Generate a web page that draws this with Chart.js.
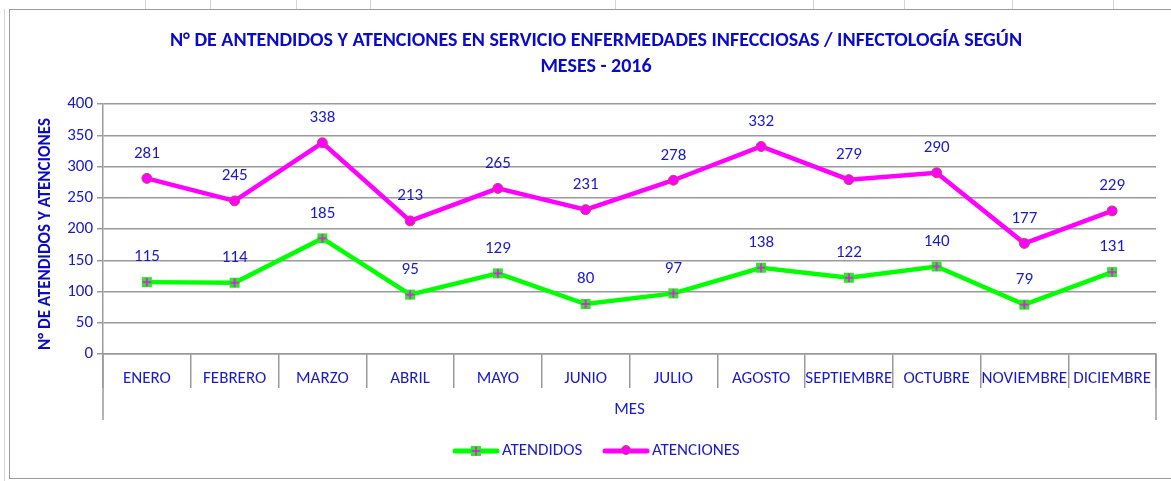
<!DOCTYPE html>
<html lang="es">
<head>
    <meta charset="UTF-8">
    <title>Atendidos y atenciones - Infectología 2016</title>
    <script src="https://cdn.jsdelivr.net/npm/chart.js"></script>
    <style>
        html, body {
            margin: 0;
            padding: 0;
            background: #fff;
        }
        .wrap {
            width: 1171px;
            height: 481px;
            position: relative;
        }
    </style>
</head>
<body>
    <div class="wrap">
        <canvas id="chart"></canvas>
    </div>
    <script>
        // datos
        const months = ['ENERO', 'FEBRERO', 'MARZO', 'ABRIL', 'MAYO', 'JUNIO', 'JULIO', 'AGOSTO', 'SEPTIEMBRE', 'OCTUBRE', 'NOVIEMBRE', 'DICIEMBRE'];
        const atendidos = [115, 114, 185, 95, 129, 80, 97, 138, 122, 140, 79, 131];
        const atenciones = [281, 245, 338, 213, 265, 231, 278, 332, 279, 290, 177, 229];
        const titleLines = ['N° DE ANTENDIDOS Y ATENCIONES EN SERVICIO ENFERMEDADES INFECCIOSAS / INFECTOLOGÍA SEGÚN', 'MESES - 2016'];
        const yTitle = 'N° DE ATENDIDOS Y ATENCIONES';
        const xTitle = 'MES';

        const FONT = 'Carlito, Lato, sans-serif';
        const BLUE = '#1a1acc';
        const GRID = '#9a9a9a';

        // marcador verde con cruz magenta
        const plusMark = document.createElement('canvas');
        plusMark.width = 12; plusMark.height = 12;
        (function () {
            const c = plusMark.getContext('2d');
            c.fillStyle = '#22ee22';
            c.fillRect(1, 1, 10, 10);
            c.strokeStyle = '#ff00ff';
            c.lineWidth = 1.5;
            c.beginPath();
            c.moveTo(6, 1.5); c.lineTo(6, 10.5);
            c.moveTo(1.5, 6); c.lineTo(10.5, 6);
            c.stroke();
        })();

        const decor = {
            id: 'decor',
            beforeDraw(chart) {
                const ctx = chart.ctx;
                ctx.save();
                // fondo de hoja de calculo
                ctx.strokeStyle = '#d4d4d4';
                ctx.lineWidth = 1;
                [145, 210, 296, 370, 615, 813, 904, 1012, 1113].forEach(x => {
                    ctx.beginPath(); ctx.moveTo(x + 0.5, 0); ctx.lineTo(x + 0.5, 9); ctx.stroke();
                });
                ctx.beginPath(); ctx.moveTo(4.5, 9); ctx.lineTo(4.5, 481); ctx.stroke();
                ctx.strokeStyle = '#9c9c9c';
                ctx.strokeRect(9.5, 9.5, 1180, 469);
                ctx.restore();
            },
            afterDraw(chart) {
                const ctx = chart.ctx;
                const area = chart.chartArea;
                ctx.save();
                // titulo
                ctx.fillStyle = '#0a0acc';
                ctx.font = 'bold 20px ' + FONT;
                ctx.textAlign = 'center';
                ctx.textBaseline = 'middle';
                ctx.fillText(titleLines[0], 596, 41);
                ctx.fillText(titleLines[1], 596, 67);

                // titulo eje y
                ctx.save();
                ctx.translate(46, 234);
                ctx.rotate(-Math.PI / 2);
                ctx.font = 'bold 17px ' + FONT;
                ctx.fillText(yTitle, 0, 0);
                ctx.restore();

                // caja del eje x
                ctx.strokeStyle = GRID;
                ctx.lineWidth = 1.5;
                ctx.beginPath();
                ctx.moveTo(area.left, area.bottom); ctx.lineTo(area.left, 420);
                ctx.moveTo(area.right, area.bottom); ctx.lineTo(area.right, 420);
                ctx.stroke();
                ctx.font = '17px ' + FONT;
                ctx.fillStyle = BLUE;
                ctx.fillText(xTitle, (area.left + area.right) / 2, 410);

                // etiquetas de datos
                chart.data.datasets.forEach((ds, i) => {
                    chart.getDatasetMeta(i).data.forEach((pt, j) => {
                        ctx.fillText(String(ds.data[j]), pt.x, pt.y - 25);
                    });
                });

                // leyenda
                const items = [
                    { x: 455, label: chart.data.datasets[0].label, color: '#00ff00', img: plusMark },
                    { x: 605, label: chart.data.datasets[1].label, color: '#ff00ff', img: null }
                ];
                items.forEach(it => {
                    ctx.strokeStyle = it.color;
                    ctx.lineWidth = 5;
                    ctx.lineCap = 'round';
                    ctx.beginPath(); ctx.moveTo(it.x, 451); ctx.lineTo(it.x + 42, 451); ctx.stroke();
                    if (it.img) {
                        ctx.drawImage(it.img, it.x + 15, 445);
                    } else {
                        ctx.beginPath();
                        ctx.arc(it.x + 21, 450, 4.5, 0, Math.PI * 2);
                        ctx.fillStyle = '#ff00ff'; ctx.fill();
                        ctx.strokeStyle = '#c0504d'; ctx.lineWidth = 1; ctx.stroke();
                    }
                    ctx.fillStyle = BLUE;
                    ctx.textAlign = 'left';
                    ctx.fillText(it.label, it.x + 47, 451);
                });
                ctx.restore();
            }
        };

        new Chart(document.getElementById('chart'), {
            type: 'line',
            data: {
                labels: months,
                datasets: [{
                    label: 'ATENDIDOS',
                    data: atendidos,
                    borderColor: '#00ff00',
                    backgroundColor: '#22ee22',
                    borderWidth: 4.5,
                    pointStyle: plusMark,
                    pointRadius: 6,
                    tension: 0
                }, {
                    label: 'ATENCIONES',
                    data: atenciones,
                    borderColor: '#ff00ff',
                    backgroundColor: '#ff00ff',
                    pointBorderColor: '#c0504d',
                    pointBorderWidth: 1,
                    borderWidth: 4.5,
                    pointStyle: 'circle',
                    pointRadius: 5,
                    tension: 0
                }]
            },
            options: {
                responsive: true,
                maintainAspectRatio: false,
                animation: false,
                layout: { padding: { top: 104, left: 20, right: 15, bottom: 0 } },
                plugins: {
                    legend: { display: false },
                    tooltip: { enabled: false }
                },
                scales: {
                    y: {
                        min: 0,
                        max: 400,
                        ticks: { stepSize: 50, color: BLUE, font: { family: FONT, size: 17 }, padding: 4 },
                        grid: { color: GRID, lineWidth: 1.5, tickLength: 6 },
                        border: { color: GRID, width: 1.5 },
                        afterFit(scale) { scale.width = 83; }
                    },
                    x: {
                        offset: true,
                        ticks: { color: BLUE, font: { family: FONT, size: 17 }, padding: -19, maxRotation: 0, autoSkip: false },
                        grid: { offset: true, drawOnChartArea: false, color: GRID, lineWidth: 1.5, tickLength: 34 },
                        border: { color: GRID, width: 1.5 },
                        afterFit(scale) { scale.height = 127; }
                    }
                }
            },
            plugins: [decor]
        });
    </script>
</body>
</html>
